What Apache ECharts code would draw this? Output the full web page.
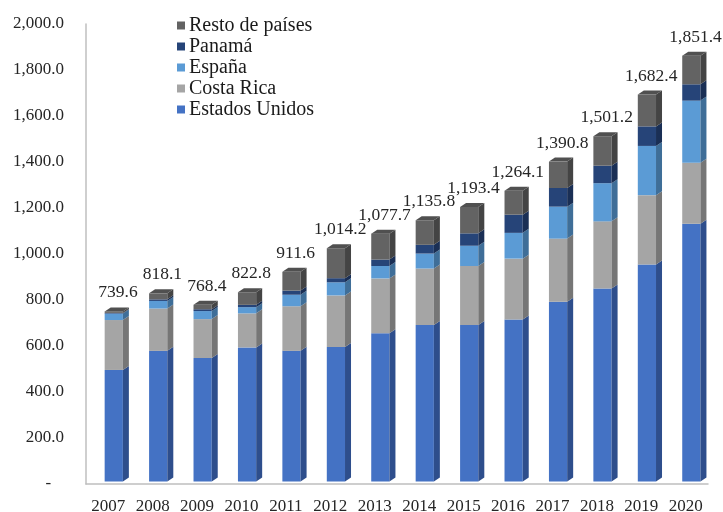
<!DOCTYPE html>
<html>
<head>
<meta charset="utf-8">
<script src="https://cdn.jsdelivr.net/npm/echarts@6/dist/echarts.min.js"></script>
<style>html,body{margin:0;padding:0;background:#fff;}#c{width:723px;height:512px;}</style>
</head>
<body>
<div id="c"></div>
<script>
const years = ['2007','2008','2009','2010','2011','2012','2013','2014','2015','2016','2017','2018','2019','2020'];
const estadosUnidos = [485, 568, 537, 583, 568, 585, 645, 680, 680, 704, 782, 839, 943, 1121];
const costaRica     = [217, 184, 169, 148, 194, 224, 238, 246, 257, 265, 274, 292, 302, 265];
const espana        = [28, 33, 35, 27, 50, 57, 54, 65, 88, 112, 139, 166, 214, 270];
const panama        = [3, 7, 8, 10, 18, 18, 28, 38, 54, 79, 81, 76, 85, 71];
const resto         = [6.6, 26.1, 19.4, 54.8, 81.6, 130.2, 112.7, 106.8, 114.4, 104.1, 114.8, 128.2, 138.4, 124.4];
const totals        = [739.6, 818.1, 768.4, 822.8, 911.6, 1014.2, 1077.7, 1135.8, 1193.4, 1264.1, 1390.8, 1501.2, 1682.4, 1851.4];
const yTicks = [0, 200, 400, 600, 800, 1000, 1200, 1400, 1600, 1800, 2000];

const seriesDefs = [
  {name: 'Estados Unidos', values: estadosUnidos, color: '#4472C4', side: '#2E4E8C', top: '#5A84CF'},
  {name: 'Costa Rica', values: costaRica, color: '#A5A5A5', side: '#767676', top: '#B5B5B5'},
  {name: 'España', values: espana, color: '#5B9BD5', side: '#3F6E98', top: '#6FA9DC'},
  {name: 'Panamá', values: panama, color: '#264478', side: '#1A2F55', top: '#33558C'},
  {name: 'Resto de países', values: resto, color: '#636363', side: '#444444', top: '#505050'}
];

const FONT = '"Liberation Serif", "DejaVu Serif", serif';
const fmt = v => v.toLocaleString('en-US', {minimumFractionDigits: 1, maximumFractionDigits: 1});

const cum = years.map(() => 0);
const series = seriesDefs.map((s, si) => {
  const data = s.values.map((v, j) => {
    const lo = cum[j];
    cum[j] += v;
    return [j, lo, cum[j]];
  });
  const isTop = si === seriesDefs.length - 1;
  return {
    name: s.name,
    type: 'custom',
    itemStyle: {color: s.color},
    encode: {x: 0, y: [1, 2]},
    data: data,
    z: 2,
    renderItem: function (params, api) {
      const j = api.value(0), lo = api.value(1), hi = api.value(2);
      const pLo = api.coord([j, lo]);
      const pHi = api.coord([j, hi]);
      const bw = api.size([1, 0])[0];
      const lift = 2.5, dx = 6, dy = 4;
      const w = 0.41 * bw;
      const xl = pLo[0] - 0.08 * bw;
      const xr = xl + w;
      const yb = pLo[1] - lift, yt = pHi[1] - lift;
      const children = [
        {type: 'rect', shape: {x: xl, y: yt, width: w, height: yb - yt}, style: {fill: s.color}},
        {type: 'polygon', shape: {points: [[xr, yt], [xr + dx, yt - dy], [xr + dx, yb - dy], [xr, yb]]}, style: {fill: s.side}}
      ];
      if (isTop) {
        children.push({type: 'polygon', shape: {points: [[xl, yt], [xl + dx, yt - dy], [xr + dx, yt - dy], [xr, yt]]}, style: {fill: s.top}});
      }
      return {type: 'group', children: children};
    }
  };
});

series.push({
  name: 'totals',
  type: 'custom',
  encode: {x: 0, y: 1},
  data: totals.map((t, j) => [j, t]),
  z: 3,
  renderItem: function (params, api) {
    const j = api.value(0), t = api.value(1);
    const p = api.coord([j, t]);
    const bw = api.size([1, 0])[0];
    return {
      type: 'text',
      style: {
        x: p[0] + 0.22 * bw,
        y: p[1] - 21,
        text: fmt(t),
        fill: '#262626',
        font: '17.5px ' + FONT,
        align: 'center',
        verticalAlign: 'middle'
      }
    };
  }
});

const chart = echarts.init(document.getElementById('c'), null, {renderer: 'canvas'});
chart.setOption({
  animation: false,
  backgroundColor: '#ffffff',
  grid: {left: 86, right: 15, top: 24, bottom: 28, containLabel: false, outerBoundsMode: 'none'},
  legend: {
    data: ['Resto de países', 'Panamá', 'España', 'Costa Rica', 'Estados Unidos'],
    orient: 'vertical',
    left: 172,
    top: 10,
    icon: 'rect',
    itemWidth: 8,
    itemHeight: 8,
    itemGap: 0,
    textStyle: {fontFamily: FONT, fontSize: 20, color: '#1a1a1a', lineHeight: 21, padding: [0, 0, 0, -1]}
  },
  xAxis: {
    type: 'category',
    data: years,
    axisLine: {lineStyle: {color: '#BFBFBF', width: 1.5}},
    axisTick: {show: false},
    axisLabel: {fontFamily: FONT, fontSize: 17, color: '#262626', margin: 14}
  },
  yAxis: {
    type: 'value',
    min: 0,
    max: 2000,
    interval: 200,
    splitLine: {show: false},
    axisLine: {show: true, lineStyle: {color: '#BFBFBF', width: 1.5}},
    axisTick: {show: false},
    axisLabel: {
      fontFamily: FONT, fontSize: 17, color: '#262626', margin: 22,
      padding: [5, 0, 0, 0],
      formatter: v => (yTicks.indexOf(v) >= 0 && v === 0) ? '-   ' : fmt(v)
    }
  },
  series: series
});
</script>
</body>
</html>
